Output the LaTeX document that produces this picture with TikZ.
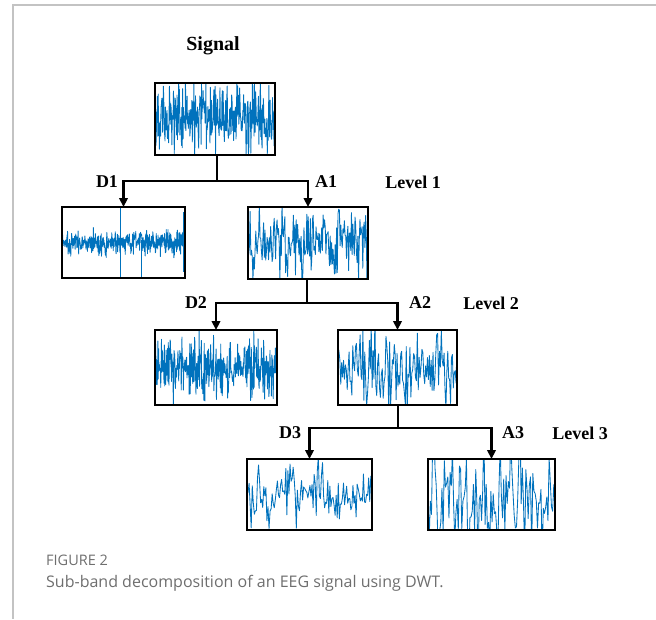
\documentclass[tikz,border=0pt]{standalone}
\usepackage{fontspec}
\setmainfont{Liberation Serif}
\newfontfamily\capfont{Open Sans}
\usetikzlibrary{arrows.meta}
\definecolor{wblue}{RGB}{0,114,189}
\definecolor{framegray}{RGB}{195,195,195}
\definecolor{capgray}{RGB}{110,110,110}
\newcommand\wavebox[7]{%
  \begin{scope}
    \clip ({#1-#3/2},{#2-#4/2}) rectangle ({#1+#3/2},{#2+#4/2});
    \pgfmathsetseed{#7}
    \draw[wave] plot[domain=0:1,samples=#5,variable=\t]
      ({#1-#3/2+\t*#3},{#2+#6*#4/2*(rand+rand+rand)/1.5});
  \end{scope}}
\begin{document}
\begin{tikzpicture}[x=1pt,y=-1pt,
  wave/.style={draw=wblue,line width=0.85pt,line join=round},
  box/.style={draw=black,line width=2.4pt,inner sep=0pt,outer sep=0pt,fill=none},
  conn/.style={draw=black,line width=2.2pt},
  arr/.style={conn,-{Triangle[length=9pt,width=8.5pt]}},
  lbl/.style={font=\fontsize{18}{18}\selectfont\bfseries,inner sep=0pt}]
\useasboundingbox (0,0) rectangle (656,619);
% frame
\draw[framegray,line width=1.5pt] (656,5) -- (13,5) -- (13,619);
% waves
\wavebox{215}{119}{120}{72}{300}{0.72}{11}
\wavebox{123.5}{242.5}{123}{71}{420}{0.24}{23}
\draw[wave] (120,207) -- (120,278);
\draw[wave] (141,240) -- (141,278);
\draw[wave] (183,212) -- (183,272);
\wavebox{308}{243}{120}{72}{170}{0.75}{37}
\wavebox{216}{367.5}{122}{75}{340}{0.62}{41}
\wavebox{397.5}{367.5}{119}{75}{130}{0.72}{53}
\wavebox{309.5}{494.5}{125}{71}{120}{0.55}{67}
\wavebox{491.5}{494.5}{127}{71}{110}{1.3}{79}
% boxes
\node[box,minimum width=120pt,minimum height=72pt] (sig) at (215,119) {};
\node[box,minimum width=123pt,minimum height=71pt] (d1) at (123.5,242.5) {};
\node[box,minimum width=120pt,minimum height=72pt] (a1) at (308,243) {};
\node[box,minimum width=122pt,minimum height=75pt] (d2) at (216,367.5) {};
\node[box,minimum width=119pt,minimum height=75pt] (a2) at (397.5,367.5) {};
\node[box,minimum width=125pt,minimum height=71pt] (d3) at (309.5,494.5) {};
\node[box,minimum width=127pt,minimum height=71pt] (a3) at (491.5,494.5) {};
% junctions
\coordinate (j1) at (217,181);
\coordinate (j2) at (307,303);
\coordinate (j3) at (398,428);
\draw[conn] (sig.south -| j1) -- (j1);
\draw[arr] (j1) -| (d1.north);
\draw[arr] (j1) -| (a1.north);
\draw[conn] (a1.south -| j2) -- (j2);
\draw[arr] (j2) -| (d2.north);
\draw[arr] (j2) -| (a2.north);
\draw[conn] (a2.south -| j3) -- (j3);
\draw[arr] (j3) -| (d3.north);
\draw[arr] (j3) -| (a3.north);
% labels
\node[lbl,font=\fontsize{20}{20}\selectfont\bfseries] (tsig) at (213,46) {Signal};
\node[lbl] (td1) at (107,182) {D1};
\node[lbl] (ta1) at (326,182) {A1};
\node[lbl] (tl1) at (413,182) {Level 1};
\node[lbl] (td2) at (196,303) {D2};
\node[lbl] (ta2) at (420,303) {A2};
\node[lbl] (tl2) at (491,303) {Level 2};
\node[lbl] (td3) at (290,433) {D3};
\node[lbl] (ta3) at (513,433) {A3};
\node[lbl] (tl3) at (580,433) {Level 3};
% caption
\node[anchor=west,inner sep=0pt,text=capgray,font=\capfont\fontsize{14.5}{14.5}\selectfont] (fig) at (46,560) {FIGURE 2};
\node[anchor=west,inner sep=0pt,text=capgray,font=\capfont\fontsize{16}{16}\selectfont] (cap) at (46,583) {Sub-band decomposition of an EEG signal using DWT.};
\end{tikzpicture}
\end{document}
